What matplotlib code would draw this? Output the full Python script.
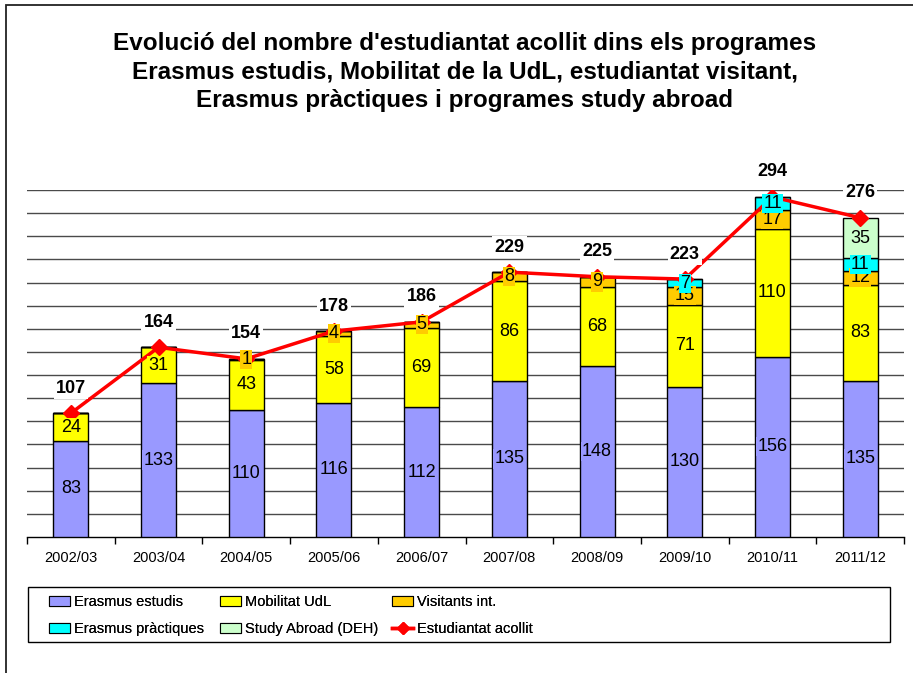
import matplotlib
matplotlib.use('Agg')
import matplotlib.pyplot as plt
import matplotlib.patches as patches
from matplotlib.lines import Line2D
import numpy as np

plt.rcParams['font.family'] = ['Liberation Sans', 'DejaVu Sans']

YEARS = ['2002/03', '2003/04', '2004/05', '2005/06', '2006/07',
         '2007/08', '2008/09', '2009/10', '2010/11', '2011/12']
ERASMUS_ESTUDIS = [83, 133, 110, 116, 112, 135, 148, 130, 156, 135]
MOBILITAT_UDL = [24, 31, 43, 58, 69, 86, 68, 71, 110, 83]
VISITANTS = [0, 0, 1, 4, 5, 8, 9, 15, 17, 12]
ERASMUS_PRACTIQUES = [0, 0, 0, 0, 0, 0, 0, 7, 11, 11]
STUDY_ABROAD = [0, 0, 0, 0, 0, 0, 0, 0, 0, 35]
TOTALS = [107, 164, 154, 178, 186, 229, 225, 223, 294, 276]

SERIES_NAMES = ['Erasmus estudis', 'Mobilitat UdL', 'Visitants int.',
                'Erasmus pràctiques', 'Study Abroad (DEH)']
SERIES_COLORS = ['#9999FF', '#FFFF00', '#FFCC00', '#00FFFF', '#CCFFCC']
LINE_NAME = 'Estudiantat acollit'

TITLE = ("Evolució del nombre d'estudiantat acollit dins els programes\n"
         "Erasmus estudis, Mobilitat de la UdL, estudiantat visitant,\n"
         "Erasmus pràctiques i programes study abroad")

W, H = 913, 673
LEGEND_SIZE = 10.5


def px(x, y):
    # pixel coords (top-left origin) -> figure fraction
    return x / W, 1 - y / H


fig = plt.figure(figsize=(W / 100, H / 100), dpi=100)
fig.patch.set_facecolor('white')

# outer chart border (only left/top visible)
fig.add_artist(patches.Rectangle(px(5.5, 700), 1.2, (700 - 5.5) / H,
                                 transform=fig.transFigure, fill=False,
                                 edgecolor='#222222', linewidth=1.3))

ax_l, ax_b = px(27, 537)
ax_r, ax_t = px(904, 190)
ax = fig.add_axes([ax_l, ax_b, ax_r - ax_l, ax_t - ax_b])

x = np.arange(len(YEARS))
series = [ERASMUS_ESTUDIS, MOBILITAT_UDL, VISITANTS, ERASMUS_PRACTIQUES, STUDY_ABROAD]
bottom = np.zeros(len(YEARS))
width = 0.4
for vals, name, color in zip(series, SERIES_NAMES, SERIES_COLORS):
    vals = np.array(vals, dtype=float)
    ax.bar(x, vals, width, bottom=bottom, color=color, edgecolor='black',
           linewidth=1.0, zorder=3)
    for i, v in enumerate(vals):
        if v > 0:
            ax.text(x[i], bottom[i] + v / 2, '%d' % v, ha='center', va='center',
                    fontsize=13, color='black', zorder=6,
                    bbox=dict(boxstyle='square,pad=0.06', facecolor=color,
                              edgecolor='none'))
    bottom += vals

ax.plot(x, TOTALS, color='#FF0000', linewidth=2.5, marker='D', markersize=8,
        markerfacecolor='#FF0000', markeredgecolor='#FF0000', zorder=5)

for i, t in enumerate(TOTALS):
    ax.annotate('%d' % t, (x[i], t), xytext=(0, 25), textcoords='offset pixels',
                ha='center', va='center', fontsize=13, fontweight='bold',
                zorder=7,
                bbox=dict(boxstyle='square,pad=0.12', facecolor='white',
                          edgecolor='none'))

ax.set_xlim(-0.5, len(YEARS) - 0.5)
ax.set_ylim(0, 300)
ax.set_yticks(np.arange(20, 301, 20))
ax.yaxis.grid(True, color='#4a4a4a', linewidth=1.0, zorder=0)
ax.tick_params(axis='y', left=False, labelleft=False)
ax.set_xticks(x)
ax.set_xticklabels(YEARS, fontsize=10.5)
ax.tick_params(axis='x', length=0, pad=10)
ax.set_xticks(np.arange(-0.5, len(YEARS), 1), minor=True)
ax.tick_params(axis='x', which='minor', length=5, width=1, color='black',
               direction='out')
for s in ['top', 'right', 'left']:
    ax.spines[s].set_visible(False)
ax.spines['bottom'].set_color('black')
ax.spines['bottom'].set_linewidth(1.0)
ax.set_axisbelow(True)

fig.text(px(465, 0)[0], px(0, 72)[1], TITLE, ha='center', va='center',
         fontsize=17.5, fontweight='bold', linespacing=1.33)

# legend box
lx0, ly0 = px(28, 642)
lx1, ly1 = px(890, 587)
fig.add_artist(patches.Rectangle((lx0, ly0), lx1 - lx0, ly1 - ly0,
                                 transform=fig.transFigure, fill=False,
                                 edgecolor='black', linewidth=1.0))

handles = [patches.Patch(facecolor=c, edgecolor='black', linewidth=0.8)
           for c in SERIES_COLORS]
handles.append(Line2D([], [], color='#FF0000', linewidth=2.5, marker='D',
                      markersize=6))
labels = SERIES_NAMES + [LINE_NAME]
fs_px = LEGEND_SIZE * 100 / 72
# one legend per column so the columns sit where the reference has them
columns = [([0, 3], 49), ([1, 4], 220), ([2, 5], 392)]
for idxs, xpos in columns:
    leg = fig.legend([handles[i] for i in idxs], [labels[i] for i in idxs],
                     loc='upper left', bbox_to_anchor=px(xpos, 595),
                     frameon=False, handlelength=21 / fs_px,
                     handleheight=0.7, handletextpad=0.25,
                     labelspacing=28 / fs_px - 1,
                     borderaxespad=0, borderpad=0,
                     prop={'size': LEGEND_SIZE})
    fig.add_artist(leg)

fig.savefig('out.png', dpi=100)
